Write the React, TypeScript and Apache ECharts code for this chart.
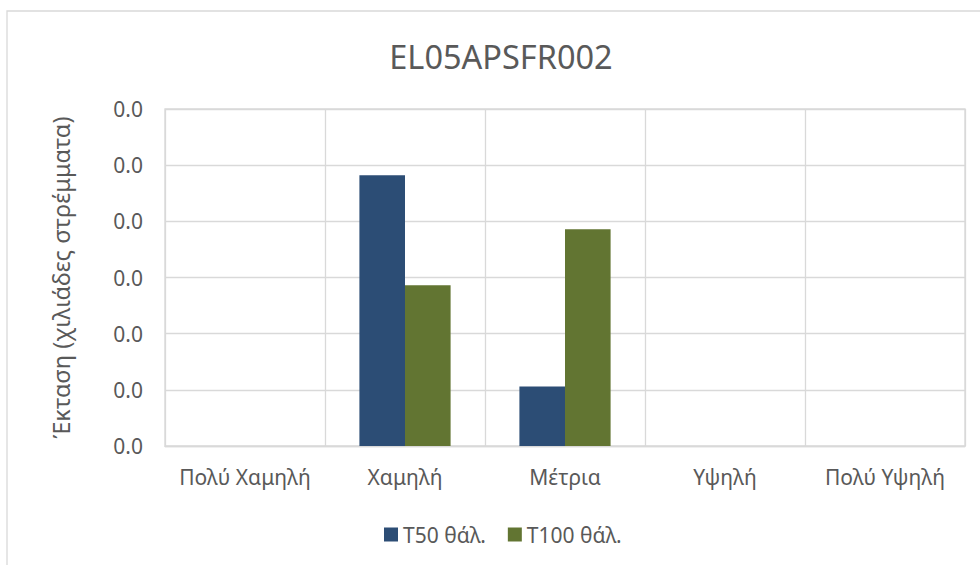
import React, { useEffect, useRef } from "react";
import * as echarts from "echarts";

const chartTitle = "EL05APSFR002";
const yAxisName = "Έκταση (χιλιάδες στρέμματα)";
const categories = ["Πολύ Χαμηλή", "Χαμηλή", "Μέτρια", "Υψηλή", "Πολύ Υψηλή"];
const seriesNames = ["T50 θάλ.", "T100 θάλ."];
const t50Values = [0, 0.0241, 0.0053, 0, 0];
const t100Values = [0, 0.0143, 0.0193, 0, 0];
const yMin = 0;
const yMax = 0.03;
const yInterval = 0.005;

const FONT = "'Noto Sans', 'DejaVu Sans', sans-serif";
const TEXT = "#595959";
const GRID = "#D9D9D9";
const COLORS = ["#2C4D75", "#627532"];

export default function App() {
  const ref = useRef<HTMLDivElement | null>(null);

  useEffect(() => {
    if (!ref.current) return;
    const chart = echarts.init(ref.current, undefined, { renderer: "svg" });
    chart.setOption({
      animation: false,
      backgroundColor: "#FFFFFF",
      textStyle: { fontFamily: FONT },
      color: COLORS,
      graphic: [
        {
          type: "rect",
          shape: { x: 7, y: 11, width: 1200, height: 800 },
          style: { fill: "none", stroke: GRID, lineWidth: 1.3 },
          silent: true,
        },
        {
          type: "text",
          x: 501,
          y: 56,
          style: {
            text: chartTitle,
            fontFamily: FONT,
            fontSize: 32.5,
            fill: TEXT,
            textAlign: "center",
            textVerticalAlign: "middle",
          },
        },
      ],
      grid: {
        left: 165,
        right: 15,
        top: 109,
        bottom: 119,
        show: true,
        borderColor: GRID,
        borderWidth: 1.3,
        containLabel: false,
      },
      legend: {
        left: 384,
        top: 524,
        padding: 0,
        itemWidth: 14,
        itemHeight: 14,
        itemGap: 22,
        icon: "rect",
        textStyle: { fontFamily: FONT, fontSize: 21, color: TEXT },
        data: seriesNames,
      },
      xAxis: {
        type: "category",
        data: categories,
        axisLine: { show: true, lineStyle: { color: GRID, width: 1.3 } },
        axisTick: { show: false },
        splitLine: { show: true, interval: 0, lineStyle: { color: GRID, width: 1.3 } },
        axisLabel: { interval: 0, color: TEXT, fontFamily: FONT, fontSize: 21, margin: 20 },
      },
      yAxis: {
        type: "value",
        min: yMin,
        max: yMax,
        interval: yInterval,
        name: yAxisName,
        nameLocation: "middle",
        nameRotate: 90,
        nameGap: 92,
        nameTextStyle: { color: TEXT, fontFamily: FONT, fontSize: 23.5 },
        axisLine: { show: false },
        axisTick: { show: false },
        splitLine: { show: true, lineStyle: { color: GRID, width: 1.3 } },
        axisLabel: {
          color: TEXT,
          fontFamily: FONT,
          fontSize: 21,
          margin: 22,
          formatter: (v: number) => v.toFixed(1),
        },
      },
      series: [
        {
          name: seriesNames[0],
          type: "bar",
          data: t50Values,
          barGap: "0%",
          barCategoryGap: "43%",
        },
        {
          name: seriesNames[1],
          type: "bar",
          data: t100Values,
          barGap: "0%",
          barCategoryGap: "43%",
        },
      ],
    });
    return () => chart.dispose();
  }, []);

  return (
    <div
      ref={ref}
      style={{ position: "fixed", left: 0, top: 0, width: 980, height: 565 }}
    />
  );
}
